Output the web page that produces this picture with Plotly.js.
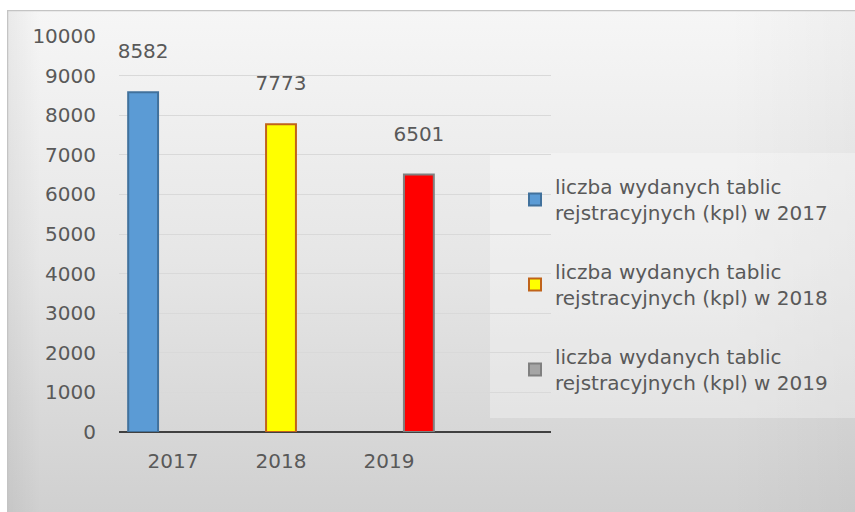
<!DOCTYPE html>
<html>
<head>
<meta charset="utf-8">
<script src="https://cdn.plot.ly/plotly-3.0.1.min.js"></script>
<style>html,body{margin:0;padding:0;background:#fff;}#chart{width:855px;height:512px;}</style>
</head>
<body>
<div id="chart"></div>
<script>
// ---- data ----
var categories = ["2017", "2018", "2019"];
var seriesNames = [
  "liczba wydanych tablic<br>rejstracyjnych (kpl) w 2017",
  "liczba wydanych tablic<br>rejstracyjnych (kpl) w 2018",
  "liczba wydanych tablic<br>rejstracyjnych (kpl) w 2019"
];
var values2017 = [8582, null, null];
var values2018 = [null, 7773, null];
var values2019 = [null, null, 6501];
var yTicks = [0, 1000, 2000, 3000, 4000, 5000, 6000, 7000, 8000, 9000, 10000];

// ---- styles ----
var FONT = "DejaVu Sans";
var FS = 20;
var TXT = "#595959";

function bar(name, vals, fill, line, idx) {
  return {
    type: "bar",
    x: categories,
    y: vals,
    name: name,
    legendgroup: "g" + idx,
    marker: {color: fill, line: {color: line, width: 2}},
    texttemplate: "%{y}<br> ",
    textposition: "outside",
    constraintext: "none",
    cliponaxis: false,
    textfont: {family: FONT, size: FS, color: TXT},
    hoverinfo: "none"
  };
}

var traces = [
  bar(seriesNames[0], values2017, "#5b9bd5", "#41719c", 0),
  bar(seriesNames[1], values2018, "#ffff00", "#c0631a", 1),
  bar(seriesNames[2], values2019, ["#a5a5a5", "#a5a5a5", "#ff0000"], "#808080", 2)
];

var svg = "<svg xmlns='http://www.w3.org/2000/svg' width='848' height='502' preserveAspectRatio='none'>" +
  "<defs><linearGradient id='g' x1='0' y1='0' x2='0' y2='1'>" +
  "<stop offset='0' stop-color='#f6f6f6'/><stop offset='0.5' stop-color='#e6e6e6'/><stop offset='1' stop-color='#d0d0d0'/>" +
  "</linearGradient><linearGradient id='h' x1='0' y1='0' x2='1' y2='0'>" +
  "<stop offset='0' stop-color='#000' stop-opacity='0.05'/><stop offset='0.04' stop-color='#000' stop-opacity='0'/>" +
  "<stop offset='0.85' stop-color='#000' stop-opacity='0'/><stop offset='1' stop-color='#000' stop-opacity='0.03'/>" +
  "</linearGradient></defs>" +
  "<rect width='848' height='502' fill='url(#g)'/>" +
  "<rect width='848' height='502' fill='url(#h)'/>" +
  "<path d='M0.5,502V0.5H848' stroke='#c4c4c4' stroke-width='1.5' fill='none'/></svg>";
var bgUri = "data:image/svg+xml;charset=utf-8," + encodeURIComponent(svg);

var W = 855, H = 512, L = 119, R = 304, T = 36, B = 80;
var pw = W - L - R, ph = H - T - B;
function px(x) { return (x - L) / pw; }
function py(y) { return (H - B - y) / ph; }

var layout = {
  width: W, height: H,
  margin: {l: L, r: R, t: T, b: B, pad: 0},
  paper_bgcolor: "#ffffff",
  plot_bgcolor: "rgba(0,0,0,0)",
  barmode: "group",
  bargap: 0.17,
  bargroupgap: 0,
  showlegend: true,
  font: {family: FONT, size: FS, color: TXT},
  xaxis: {
    type: "category",
    range: [-0.5, 3.5],
    showgrid: false,
    zeroline: false,
    showline: false,
    ticks: "outside", ticklen: 11, tickcolor: "rgba(0,0,0,0)",
    tickfont: {family: FONT, size: FS, color: TXT},
    fixedrange: true
  },
  yaxis: {
    range: [0, 10000],
    tickvals: yTicks,
    ticktext: yTicks.map(String),
    showgrid: true, gridcolor: "#d9d9d9", gridwidth: 1,
    zeroline: true, zerolinecolor: "#404040", zerolinewidth: 2.5,
    showline: false,
    ticks: "outside", ticklen: 18, tickcolor: "rgba(0,0,0,0)",
    tickfont: {family: FONT, size: FS, color: TXT},
    fixedrange: true
  },
  legend: {
    x: px(515), y: py(167), xanchor: "left", yanchor: "top",
    bgcolor: "rgba(0,0,0,0)",
    font: {family: FONT, size: FS, color: TXT},
    tracegroupgap: 30,
    itemwidth: 30,
    traceorder: "grouped"
  },
  images: [{
    source: bgUri, xref: "paper", yref: "paper",
    x: px(7), y: py(10), sizex: (W - 7) / pw, sizey: (H - 10) / ph,
    xanchor: "left", yanchor: "top", sizing: "stretch", layer: "below"
  }],
  shapes: [{
    type: "rect", xref: "paper", yref: "paper", layer: "below",
    x0: px(490), x1: px(855), y0: py(418), y1: py(153),
    fillcolor: "rgba(255,255,255,0.3)", line: {width: 0}
  }]
};

Plotly.newPlot("chart", traces, layout, {displayModeBar: false, staticPlot: true});
</script>
</body>
</html>
